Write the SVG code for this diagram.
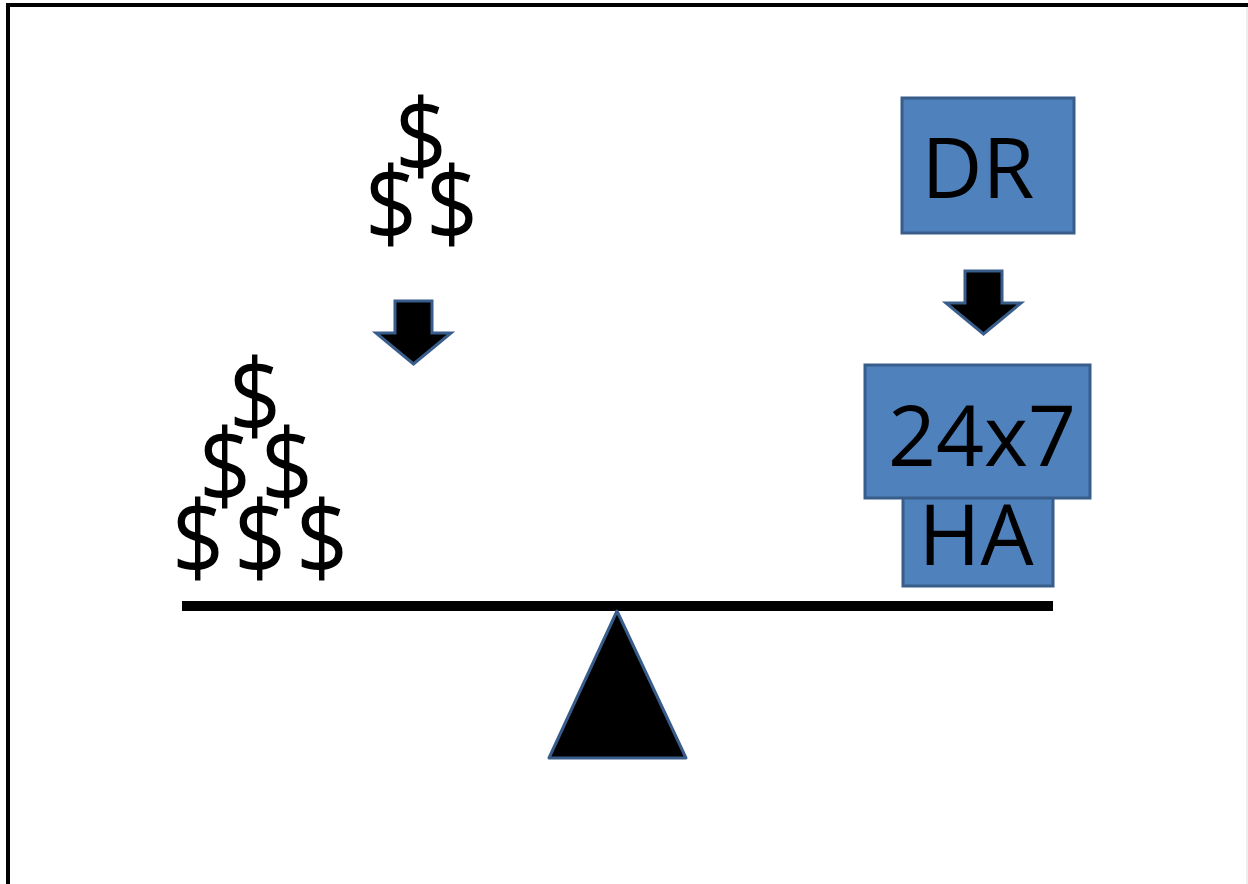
<svg xmlns="http://www.w3.org/2000/svg" width="1248" height="884" viewBox="0 0 1248 884">
  <style>
    .dollar { font-family: "Open Sans", "Noto Sans", sans-serif; font-size: 102px; fill: #000; text-anchor: middle; }
    .label { font-family: "Open Sans", "Noto Sans", sans-serif; font-size: 84px; fill: #000; text-anchor: middle; }
    .box { fill: #4F81BD; stroke: #385D8A; stroke-width: 3; }
    .arrow { fill: #000; stroke: #385D8A; stroke-width: 3; stroke-linejoin: miter; }
  </style>
  <defs>
    <!-- block arrow pointing down, origin at the top-left of the shaft -->
    <path id="downArrow" d="M0 0 H37 V32 H56 L18.5 63 L-19 32 H0 Z"/>
  </defs>
  <rect x="0" y="0" width="1248" height="884" fill="#fff"/>

  <!-- frame -->
  <g id="frame">
    <line x1="8" y1="5" x2="1248" y2="5" stroke="#000" stroke-width="4"/>
    <line x1="8" y1="3" x2="8" y2="884" stroke="#000" stroke-width="4"/>
    <line x1="1247" y1="7" x2="1247" y2="884" stroke="#ddd" stroke-width="1"/>
  </g>

  <!-- falling coins -->
  <g id="coins-top">
    <text class="dollar" x="421" y="173" textLength="52" lengthAdjust="spacingAndGlyphs">$</text>
    <text class="dollar" x="391" y="241" textLength="52" lengthAdjust="spacingAndGlyphs">$</text>
    <text class="dollar" x="452" y="241" textLength="52" lengthAdjust="spacingAndGlyphs">$</text>
  </g>

  <!-- coins resting on the beam -->
  <g id="coins-pile">
    <text class="dollar" x="255" y="433" textLength="52" lengthAdjust="spacingAndGlyphs">$</text>
    <text class="dollar" x="225" y="503" textLength="52" lengthAdjust="spacingAndGlyphs">$</text>
    <text class="dollar" x="287" y="503" textLength="52" lengthAdjust="spacingAndGlyphs">$</text>
    <text class="dollar" x="198" y="575" textLength="52" lengthAdjust="spacingAndGlyphs">$</text>
    <text class="dollar" x="260" y="575" textLength="52" lengthAdjust="spacingAndGlyphs">$</text>
    <text class="dollar" x="322" y="575" textLength="52" lengthAdjust="spacingAndGlyphs">$</text>
  </g>

  <g id="node-dr">
    <rect class="box" x="902" y="98" width="172" height="135"/>
    <text class="label" x="978" y="198">DR</text>
  </g>

  <g id="node-ha">
    <rect class="box" x="903" y="495" width="150" height="91"/>
    <text class="label" x="976" y="565">HA</text>
  </g>

  <g id="node-24x7">
    <rect class="box" x="865" y="365" width="225" height="133"/>
    <text class="label" x="982" y="466" font-size="90">24x7</text>
  </g>

  <g id="connectors">
    <use href="#downArrow" class="arrow" x="395" y="301"/>
    <use href="#downArrow" class="arrow" x="965" y="271"/>
  </g>

  <!-- seesaw -->
  <g id="seesaw">
    <rect x="182" y="601" width="871" height="10" fill="#000"/>
    <path d="M617 611 L686 758 L549 758 Z" fill="#000" stroke="#385D8A" stroke-width="3" stroke-linejoin="round"/>
  </g>
</svg>
